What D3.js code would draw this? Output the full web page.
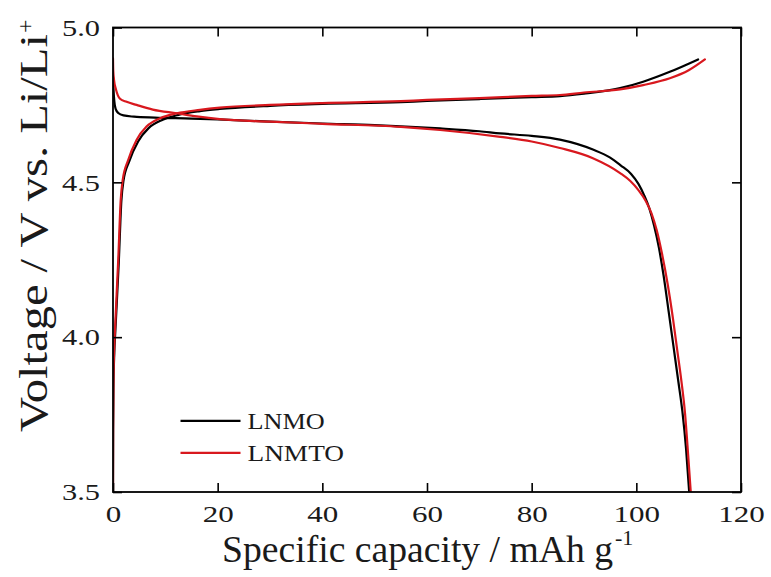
<!DOCTYPE html>
<html>
<head>
<meta charset="utf-8">
<script src="https://cdn.jsdelivr.net/npm/d3@7"></script>
<style>
  html, body { margin: 0; padding: 0; background: #fff; }
  svg { display: block; }
  text { font-family: "Liberation Serif", "Times New Roman", serif; fill: #1a1a1a; }
</style>
</head>
<body>
<svg id="chart" width="771" height="577"></svg>
<script>
// Galvanostatic charge / discharge profiles: [specific capacity (mAh/g), voltage (V)]
const lnmoDischarge = [
  [0, 4.84], [0.1, 4.80], [0.25, 4.762], [0.5, 4.737], [1, 4.724], [2, 4.716],
  [4, 4.712], [8, 4.709], [15, 4.706], [20, 4.703], [30, 4.696], [40, 4.690],
  [50, 4.685], [55, 4.681], [62.5, 4.674], [70, 4.665], [74, 4.658], [80, 4.650],
  [85.4, 4.638], [91.7, 4.606], [95, 4.580], [97, 4.555], [99, 4.527], [100.4, 4.495],
  [101.5, 4.458], [102.5, 4.415], [103.4, 4.36], [104.3, 4.29], [105.2, 4.20],
  [106.2, 4.08], [107.1, 3.97], [108.0, 3.86], [108.8, 3.76], [109.5, 3.64], [110.1, 3.5]
];
const lnmoCharge = [
  [0, 3.5], [0.03, 3.7], [0.1, 3.85], [0.25, 3.95], [0.45, 4.02], [1.1, 4.24],
  [1.6, 4.44], [2.0, 4.505], [3.1, 4.568], [4.8, 4.632], [6.8, 4.675], [9.5, 4.702],
  [12.5, 4.718], [16.6, 4.730], [20.4, 4.737], [30, 4.747], [40, 4.753], [55, 4.759],
  [60, 4.763], [70, 4.769], [80, 4.775], [85.4, 4.778], [90, 4.786], [96.9, 4.804],
  [101.3, 4.825], [106.4, 4.857], [111.8, 4.897]
];
const lnmtoDischarge = [
  [0, 4.90], [0.05, 4.86], [0.2, 4.83], [0.57, 4.80], [1.34, 4.770], [2.6, 4.760],
  [4.5, 4.750], [7.6, 4.735], [12.2, 4.723], [16, 4.713], [20.4, 4.704], [30, 4.696],
  [40, 4.689], [55, 4.679], [62.5, 4.669], [74, 4.647], [80, 4.632], [85.4, 4.611],
  [91.7, 4.578], [96.9, 4.530], [98.8, 4.505], [100.4, 4.475], [101.8, 4.44],
  [102.9, 4.40], [103.9, 4.345], [104.9, 4.27], [106.0, 4.17], [107.0, 4.06],
  [107.8, 3.96], [108.6, 3.86], [109.3, 3.755], [109.9, 3.62], [110.4, 3.5]
];
const lnmtoCharge = [
  [0, 3.5], [0.02, 3.7], [0.08, 3.85], [0.2, 3.95], [0.38, 4.023], [1.0, 4.249],
  [1.47, 4.443], [1.85, 4.507], [2.9, 4.572], [4.5, 4.637], [6.4, 4.680], [9.0, 4.707],
  [12.2, 4.723], [16.6, 4.734], [20.4, 4.741], [30, 4.750], [40, 4.756], [55, 4.762],
  [60, 4.766], [70, 4.772], [80, 4.779], [85.4, 4.782], [90, 4.790], [96.9, 4.800],
  [101.3, 4.814], [106.4, 4.836], [110, 4.862], [113.1, 4.897]
];

const seriesNames = ["LNMO", "LNMTO"];
const seriesColors = ["#000000", "#d8181e"];
const xTicks = [0, 20, 40, 60, 80, 100, 120];
const yTicks = [3.5, 4.0, 4.5, 5.0];

const svg = d3.select("#chart");
const margin = { left: 113, top: 27.5, right: 30, bottom: 85 };
const W = 771 - margin.left - margin.right;
const H = 577 - margin.top - margin.bottom;

const x = d3.scaleLinear().domain([0, 120]).range([0, W]);
const y = d3.scaleLinear().domain([3.5, 5.0]).range([H, 0]);

const g = svg.append("g").attr("transform", `translate(${margin.left},${margin.top})`);

g.append("clipPath").attr("id", "plot-clip")
  .append("rect").attr("width", W).attr("height", H);

// curves
const line = d3.line().x(d => x(d[0])).y(d => y(d[1])).curve(d3.curveMonotoneX);
const curves = [
  { data: lnmoDischarge, color: seriesColors[0] },
  { data: lnmoCharge, color: seriesColors[0] },
  { data: lnmtoDischarge, color: seriesColors[1] },
  { data: lnmtoCharge, color: seriesColors[1] }
];
g.append("g").attr("clip-path", "url(#plot-clip)")
  .selectAll("path").data(curves).join("path")
  .attr("d", d => line(d.data))
  .attr("fill", "none")
  .attr("stroke", d => d.color)
  .attr("stroke-width", 2.2)
  .attr("stroke-linejoin", "round")
  .attr("stroke-linecap", "round");

// axes with inward ticks
const tickLen = 9;
const fmtY = d3.format(".1f");
const labelFont = 24;

const xAxis = g.append("g").attr("transform", `translate(0,${H})`)
  .call(d3.axisBottom(x).tickValues(xTicks).tickSizeInner(-tickLen).tickSizeOuter(0).tickPadding(13));
xAxis.selectAll("text")
  .attr("font-size", labelFont)
  .attr("textLength", d => String(d).length * 15.5)
  .attr("lengthAdjust", "spacingAndGlyphs");

g.append("g")
  .call(d3.axisTop(x).tickValues(xTicks).tickSizeInner(-tickLen).tickSizeOuter(0).tickFormat(""));

const yAxis = g.append("g")
  .call(d3.axisLeft(y).tickValues(yTicks).tickFormat(fmtY).tickSizeInner(-tickLen).tickSizeOuter(0).tickPadding(13));
yAxis.selectAll("text")
  .attr("font-size", labelFont)
  .attr("textLength", 38)
  .attr("lengthAdjust", "spacingAndGlyphs");

g.append("g").attr("transform", `translate(${W},0)`)
  .call(d3.axisRight(y).tickValues(yTicks).tickSizeInner(-tickLen).tickSizeOuter(0).tickFormat(""));

g.selectAll(".domain").remove();
g.selectAll(".tick line").attr("stroke", "#000").attr("stroke-width", 1.6);
g.selectAll(".tick text").attr("fill", "#1a1a1a");

// frame
g.append("rect").attr("width", W).attr("height", H)
  .attr("fill", "none").attr("stroke", "#000").attr("stroke-width", 1.8);

// legend
const legend = g.append("g").attr("transform", `translate(${x(12.9)},${y(3.73)})`);
seriesNames.forEach((name, i) => {
  const row = legend.append("g").attr("transform", `translate(0,${i * 32})`);
  row.append("line").attr("x1", 0).attr("x2", 60).attr("y1", 0).attr("y2", 0)
    .attr("stroke", seriesColors[i]).attr("stroke-width", 2.2);
  row.append("text").attr("x", 67).attr("y", 8).attr("font-size", 23)
    .attr("textLength", name.length * 19.3).attr("lengthAdjust", "spacingAndGlyphs")
    .text(name);
});

// axis titles
svg.append("text").attr("x", 222).attr("y", 562).attr("font-size", 37)
  .attr("textLength", 391).attr("lengthAdjust", "spacingAndGlyphs")
  .text("Specific capacity / mAh g");
svg.append("text").attr("x", 615).attr("y", 545).attr("font-size", 22).text("-1");

svg.append("text").attr("transform", "translate(47,432) rotate(-90)").attr("font-size", 40)
  .attr("textLength", 398).attr("lengthAdjust", "spacingAndGlyphs")
  .text("Voltage / V vs. Li/Li");
svg.append("text").attr("transform", "translate(47,33) rotate(-90)").attr("dy", -14)
  .attr("font-size", 24).text("+");
</script>
</body>
</html>
